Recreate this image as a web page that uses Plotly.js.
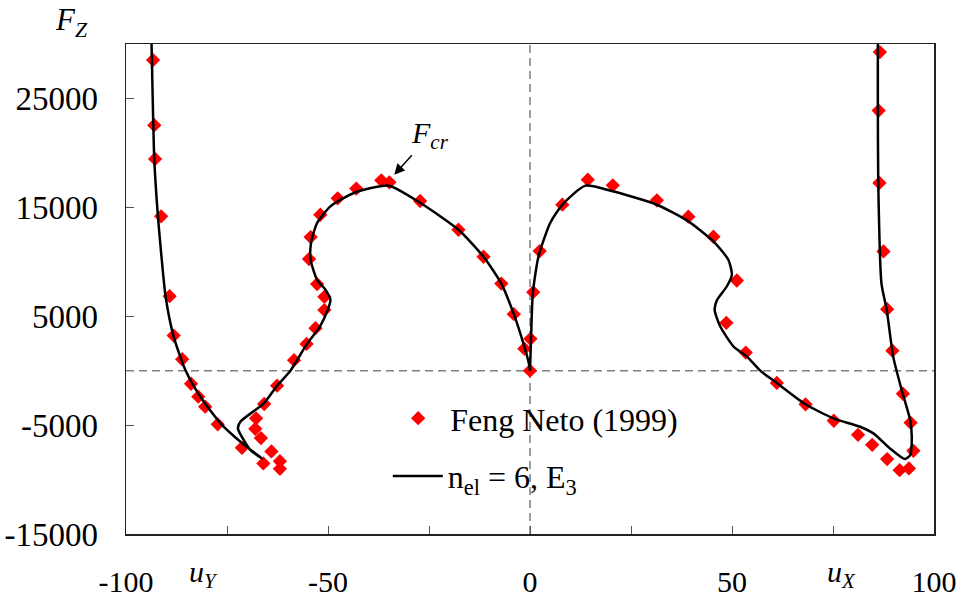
<!DOCTYPE html>
<html>
<head>
<meta charset="utf-8">
<script src="https://cdn.plot.ly/plotly-3.0.1.min.js"></script>
<style>html,body{margin:0;padding:0;background:#fff;}#chart{width:962px;height:597px;}</style>
</head>
<body>
<div id="chart"></div>
<script>
// Feng Neto (1999) reference points (u, F_Z)
var fengU = [-93.3,-93.0,-92.8,-91.3,-89.2,-88.2,-86.1,-83.9,-82.1,-80.4,-77.3,-71.3,-66.0,-61.9,-61.9,-64.0,-66.6,-68.0,-67.8,-65.8,-62.6,-58.4,-55.3,-53.1,-50.9,-50.9,-52.7,-54.7,-54.3,-51.9,-47.6,-43.0,-36.8,-34.8,-27.2,-17.7,-11.5,-7.1,-4.0,-1.4,0.0,
             0.1,0.8,2.4,8.0,14.3,20.5,31.4,39.2,45.4,51.2,48.6,53.4,61.1,68.2,75.2,81.2,84.7,88.4,91.5,93.8,94.9,94.2,92.3,89.7,88.4,87.5,86.5,86.3,86.6];
var fengF = [28520,22540,19450,14170,6845,3220,1050,-1200,-2390,-3310,-4930,-7080,-8520,-9010,-8310,-7420,-6190,-5340,-4380,-3060,-1380,960,2460,3900,5560,6780,7950,10250,12270,14320,15830,16720,17480,17300,15580,12940,10460,8000,5190,2020,0,
             2920,7210,10980,15240,17540,17020,15640,14140,12300,8280,4390,1660,-1130,-3090,-4600,-5890,-6810,-8120,-9140,-8980,-7360,-4780,-2120,1840,5650,10950,17240,23890,29260];

// n_el = 6, E3 solution curve (left branch u_Y, then right branch u_X)
var curveU = [-93.7,-93.4,-93.0,-92.1,-91.3,-90.2,-88.2,-85.3,-81.6,-76.6,-71.2,-66.3,-69.2,-71.8,-72.3,-71.7,-65.9,-62.6,-59.3,-55.2,-52.0,-50.1,-49.4,-50.6,-52.7,-54.3,-54.2,-52.7,-49.4,-43.6,-35.0,-27.1,-17.7,-11.5,-7.1,-4.0,-1.4,-0.3,0.0,
              null,
              0.0,0.25,0.7,2.1,5.0,8.0,13.7,20.5,31.4,39.2,45.4,49.1,49.97,48.7,46.3,45.7,47.1,50.4,53.7,57.0,61.1,68.2,75.1,81.7,85.0,89.1,92.8,94.1,94.5,94.1,92.0,89.9,88.3,87.0,86.2,86.1,86.1];
var curveF = [30400,25200,19380,14170,10800,6810,3130,60,-2390,-4840,-6680,-8060,-7300,-5760,-5300,-4690,-3000,-1380,0,2460,4050,5560,6490,7420,8340,10180,11720,13560,15090,16320,16990,15400,12940,10460,8000,5190,2210,700,0,
              null,
              0,2820,7120,10490,13560,15240,16990,16470,15240,13710,11870,10180,8800,7730,6500,5580,4050,2210,1290,0,-1130,-3090,-4380,-5150,-5760,-7140,-8120,-7760,-6070,-4540,-1780,1290,5580,8000,17240,25200,30400];

var yTickVals = [-15000,-5000,5000,15000,25000];
var yTickText = ['-15000','-5000','5000','15000','25000'];
var xTickVals = [-100,-50,0,50,100];
var xTickText = ['-100','-50','0','50','100'];

var serif = 'Liberation Serif, Times New Roman, serif';

var traces = [
  {
    x: fengU, y: fengF, type: 'scatter', mode: 'markers',
    name: 'Feng Neto (1999)',
    marker: {symbol: 'diamond', color: '#ff0000', size: 11},
    legend: 'legend', cliponaxis: false
  },
  {
    x: curveU, y: curveF, type: 'scatter', mode: 'lines',
    name: 'n<sub>el</sub> = 6, E<sub>3</sub>',
    line: {color: '#000000', width: 2.5, shape: 'spline', smoothing: 0.6},
    connectgaps: false,
    legend: 'legend2'
  }
];

var layout = {
  width: 962, height: 597,
  margin: {l: 126, r: 28, t: 44, b: 63},
  paper_bgcolor: '#ffffff', plot_bgcolor: '#ffffff',
  font: {family: serif, size: 30, color: '#000'},
  showlegend: true,
  xaxis: {
    range: [-100, 100], showgrid: false, zeroline: false,
    tickmode: 'array', tickvals: xTickVals, ticktext: xTickText,
    ticks: 'inside', ticklen: 8, tickcolor: '#555', tickwidth: 1,
    minor: {dtick: 25, tick0: 0, ticks: 'inside', ticklen: 8, tickcolor: '#555', showgrid: false},
    showline: true, linecolor: '#222', linewidth: 1.5, mirror: true,
    ticklabelstandoff: 20,
    tickfont: {family: serif, size: 30, color: '#000'}
  },
  yaxis: {
    range: [-15000, 30000], showgrid: false, zeroline: false,
    tickmode: 'array', tickvals: yTickVals, ticktext: yTickText,
    ticks: 'inside', ticklen: 8, tickcolor: '#555', tickwidth: 1,
    showline: true, linecolor: '#222', linewidth: 1.5, mirror: true,
    ticklabelstandoff: 20,
    tickfont: {family: serif, size: 33, color: '#000'}
  },
  shapes: [
    {type: 'line', xref: 'paper', yref: 'y', x0: 0, x1: 1, y0: 0, y1: 0, layer: 'below',
     line: {color: '#808080', width: 1.5, dash: '8px,5px'}},
    {type: 'line', xref: 'x', yref: 'paper', x0: 0, x1: 0, y0: 0, y1: 1, layer: 'below',
     line: {color: '#808080', width: 1.5, dash: '8px,5px'}}
  ],
  annotations: [
    {xref: 'paper', yref: 'paper', x: -0.09, y: 1.09, showarrow: false,
     text: '<i>F</i><sub><i>Z</i></sub>', font: {family: serif, size: 31}},
    {xref: 'paper', yref: 'paper', x: 0.0755, y: -0.125, showarrow: false,
     text: '<i>u</i><sub><i>Y</i></sub>', font: {family: serif, size: 30}},
    {xref: 'paper', yref: 'paper', x: 0.906, y: -0.125, showarrow: false,
     text: '<i>u</i><sub><i>X</i></sub>', font: {family: serif, size: 30}},
    {xref: 'x', yref: 'y', x: -33.6, y: 18000, ax: 36, ay: -40,
     showarrow: true, arrowhead: 2, arrowsize: 1.4, arrowwidth: 1.5, arrowcolor: '#000',
     text: '<i>F</i><sub><i>cr</i></sub>', font: {family: serif, size: 30}}
  ],
  legend: {
    x: 0.322, y: 0.236, xanchor: 'left', yanchor: 'middle',
    bgcolor: 'rgba(0,0,0,0)', itemwidth: 54,
    font: {family: serif, size: 32, color: '#000'}
  },
  legend2: {
    x: 0.324, y: 0.118, xanchor: 'left', yanchor: 'middle',
    bgcolor: 'rgba(0,0,0,0)', itemwidth: 50,
    font: {family: serif, size: 32, color: '#000'}
  }
};

Plotly.newPlot('chart', traces, layout, {displayModeBar: false, staticPlot: true});
</script>
</body>
</html>
